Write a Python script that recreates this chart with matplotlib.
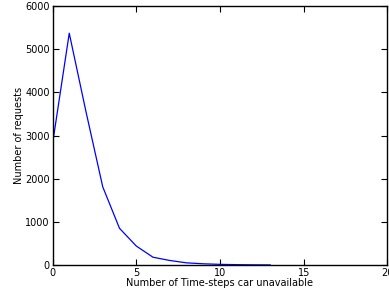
import matplotlib
matplotlib.use('Agg')
import matplotlib.pyplot as plt

# --- data --- #
time_steps = [0, 1, 2, 3, 4, 5, 6, 7, 8, 9, 10, 11, 12, 13]
requests = [2800, 5370, 3550, 1810, 850, 440, 180, 105, 50, 28, 15, 8, 4, 2]

x_ticks = [0, 5, 10, 15, 20]
y_ticks = [0, 1000, 2000, 3000, 4000, 5000, 6000]

# --- figure --- #
fig = plt.figure(figsize=(3.89, 2.91), dpi=100)
ax = fig.add_axes([52.5 / 389, 1 - 265 / 291, (387.5 - 52.5) / 389, (265 - 6) / 291])

ax.plot(time_steps, requests, color='blue', linewidth=0.9)

ax.set_xlim(0, 20)
ax.set_ylim(0, 6000)
ax.set_xticks(x_ticks)
ax.set_yticks(y_ticks)

# classic look: inward ticks on all four sides
ax.tick_params(direction='in', top=True, right=True, labelsize=7, length=4, pad=2)
for spine in ax.spines.values():
    spine.set_linewidth(1.0)

ax.set_xlabel('Number of Time-steps car unavailable', fontsize=7, labelpad=0)
ax.set_ylabel('Number of requests', fontsize=7, labelpad=1)

fig.savefig('out.png', dpi=100)
